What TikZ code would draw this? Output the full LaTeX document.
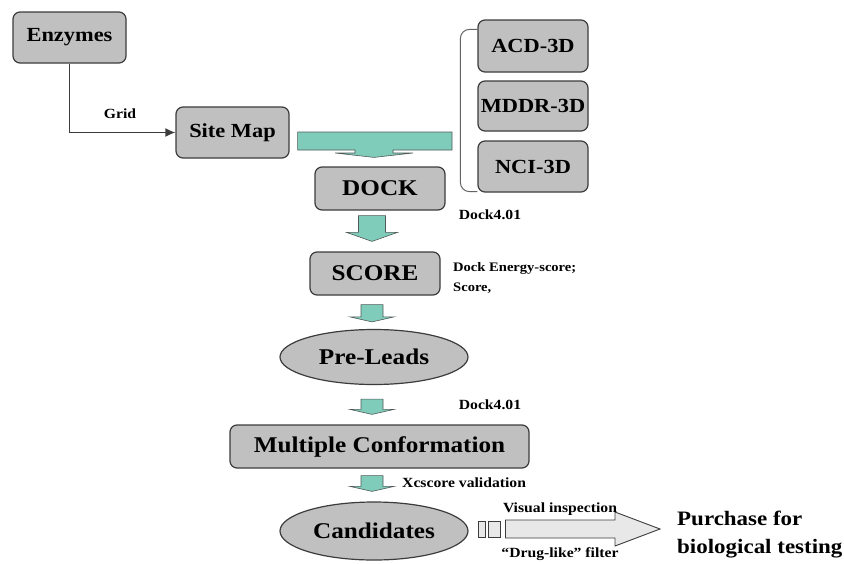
\documentclass[tikz,border=0pt]{standalone}
\usepackage{fontspec}
\setmainfont[FakeStretch=1.12]{Liberation Serif}
\usetikzlibrary{calc,arrows.meta,shapes.geometric}
\definecolor{boxgray}{RGB}{192,192,192}
\definecolor{edgegray}{RGB}{60,60,60}
\definecolor{tealc}{RGB}{128,204,186}
\definecolor{tealedge}{RGB}{80,90,88}
\definecolor{lightarrow}{RGB}{232,232,232}
\newcommand\tealdown[7]{%
  \draw[tealshape] let \p1=(#1.south), \p2=(#2.north), \p3=(axis) in
    (\x3-#5pt,\y1-#3pt) -- (\x3+#5pt,\y1-#3pt) -- (\x3+#5pt,\y2+#4pt+#7pt)
    -- (\x3+#6pt,\y2+#4pt+#7pt) -- (\x3,\y2+#4pt) -- (\x3-#6pt,\y2+#4pt+#7pt)
    -- (\x3-#5pt,\y2+#4pt+#7pt) -- cycle;}
\begin{document}
\begin{tikzpicture}[x=1pt,y=-1pt,
  box/.style={draw=edgegray, line width=1.2pt, fill=boxgray, rounded corners=7pt,
    font=\bfseries\fontsize{20}{24}\selectfont, inner sep=0pt},
  bigbox/.style={box, font=\bfseries\fontsize{22.5}{26}\selectfont},
  oval/.style={ellipse, draw=edgegray, line width=1.2pt, fill=boxgray, inner sep=0pt,
    font=\bfseries\fontsize{22.5}{26}\selectfont},
  lbl/.style={font=\bfseries\fontsize{14}{18}\selectfont, inner sep=0pt},
  smalllbl/.style={font=\bfseries\fontsize{13}{20}\selectfont, inner sep=0pt, align=left},
  biglbl/.style={font=\bfseries\fontsize{20.5}{28}\selectfont, inner sep=0pt, align=left},
  tealshape/.style={draw=tealedge, line width=0.6pt, fill=tealc},
  conn/.style={draw=edgegray, line width=1.6pt, -{Latex[length=10pt,width=9pt]}}]
\useasboundingbox (0,0) rectangle (844,563);
\coordinate (axis) at (372,0);

\node[box, minimum width=113pt, minimum height=51pt] (enz) at (69.5,37.5) {Enzymes};
\node[box, minimum width=113pt, minimum height=51pt] (site) at (232.5,132.5) {Site Map};
\node[box, minimum width=110pt, minimum height=52pt] (acd) at (533,46) {ACD-3D};
\node[box, minimum width=110pt, minimum height=50pt] (mddr) at (533,106) {MDDR-3D};
\node[box, minimum width=110pt, minimum height=51pt] (nci) at (533,166.5) {NCI-3D};
\node[bigbox, minimum width=130pt, minimum height=43pt] (dock) at (380,188.5) {DOCK};
\node[bigbox, minimum width=130pt, minimum height=43pt] (score) at (375,273.5) {SCORE};
\node[oval, minimum width=188pt, minimum height=55pt] (pre) at (374,357) {Pre-Leads};
\node[bigbox, minimum width=299pt, minimum height=43pt] (multi) at (379.5,446.5) {Multiple Conformation};
\node[oval, minimum width=188pt, minimum height=58pt] (cand) at (374,531) {Candidates};

% Grid connector
\coordinate (bend) at (enz.south |- site.west);
\draw[conn] (enz.south) -- (bend) -- (site.west);
\node[lbl] (grid) at (120,114) {Grid};

% bracket
\draw[draw=edgegray!80, line width=1pt, rounded corners=9pt]
  ($(acd.north west)+(0,10)$) -- ++(-17,0) -- ($(nci.south west)+(-17,-1)$) -- ($(nci.south west)+(0,-1)$);

% Site Map -> DOCK teal arrow
\draw[tealshape] let \p1=(site.east), \p2=(dock.north), \p3=(axis) in
  (\x1+8pt,\y1+0.5pt) -- (452,\y1+0.5pt) -- (452,150) -- ($(\x3,150)+(21,0)$)
  -- ($(\x3,153)+(21,0)$) -- ($(\x3,153)+(41,0)$) -- (\x3+2pt,\y2+9pt)
  -- ($(\x3,153)+(-37,0)$) -- ($(\x3,153)+(-17,0)$) -- ($(\x3,150)+(-17,0)$)
  -- (\x1+8pt,150) -- cycle;

% vertical teal arrows
\tealdown{dock}{score}{5}{10}{13.5}{25.5}{9}
\tealdown{score}{pre}{9}{7}{11}{22}{5}
\tealdown{pre}{multi}{14}{10}{11}{22}{5}
\tealdown{multi}{cand}{7}{10}{11}{22}{5}

% labels
\node[lbl] (d1) at (490,215) {Dock4.01};
\node[smalllbl, anchor=west] (es) at (453,278) {Dock Energy-score;\\Score,};
\node[lbl] (d2) at (490,405) {Dock4.01};
\node[lbl, anchor=west] (xc) at (402,483) {Xcscore validation};

% candidates -> purchase
\node[draw=edgegray, line width=0.9pt, fill=lightarrow, minimum width=7pt, minimum height=16pt, inner sep=0pt] (sq1) at (481.5,529) {};
\node[draw=edgegray, line width=0.9pt, fill=lightarrow, minimum width=12pt, minimum height=16pt, inner sep=0pt] (sq2) at (494,529) {};
\node[biglbl, anchor=west] (pur) at (677,535) {Purchase for\\biological testing};
\draw[draw=edgegray, line width=0.9pt, fill=lightarrow] let \p1=(sq2.east), \p2=(pur.west) in
  (\x1+5pt,520) -- (615,520) -- (615,512) -- (\x2-17pt,529) -- (615,546) -- (615,538) -- (\x1+5pt,538) -- cycle;
\node[lbl] (vi) at (560,509) {Visual inspection};
\node[lbl, anchor=south] (dl) at (560,561) {“Drug-like” filter};
\end{tikzpicture}
\end{document}
